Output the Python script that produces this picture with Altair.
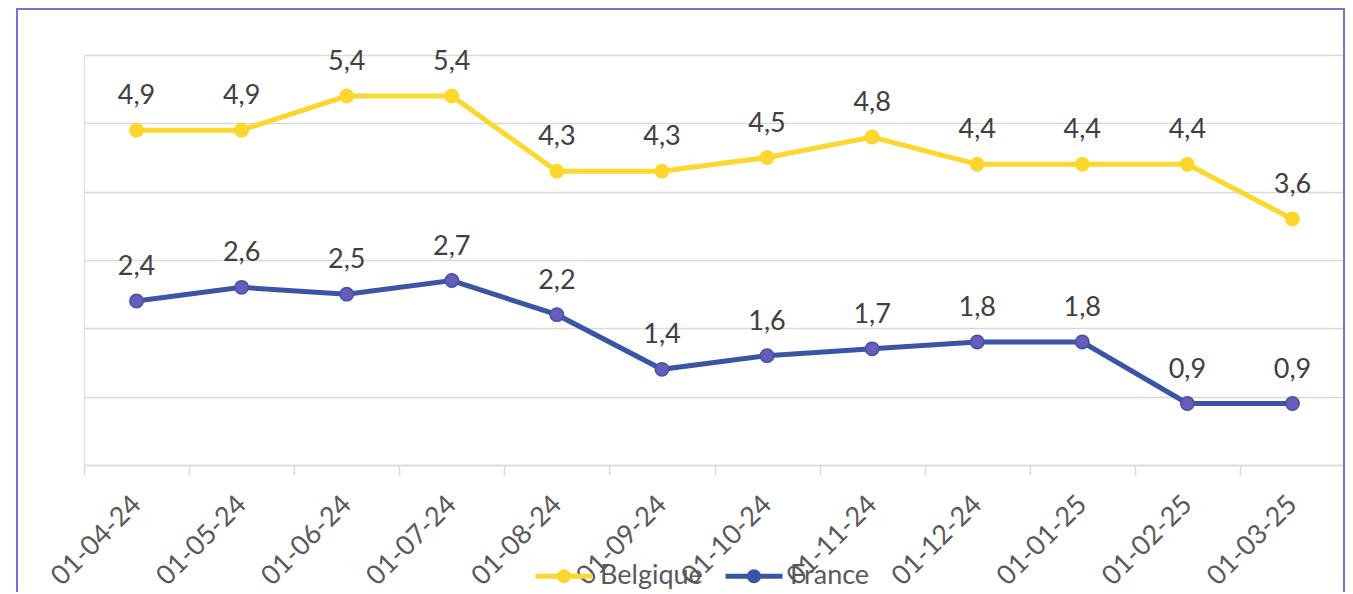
import altair as alt
import pandas as pd

dates = ["01-04-24", "01-05-24", "01-06-24", "01-07-24", "01-08-24", "01-09-24",
         "01-10-24", "01-11-24", "01-12-24", "01-01-25", "01-02-25", "01-03-25"]
belgique = [4.9, 4.9, 5.4, 5.4, 4.3, 4.3, 4.5, 4.8, 4.4, 4.4, 4.4, 3.6]
france = [2.4, 2.6, 2.5, 2.7, 2.2, 1.4, 1.6, 1.7, 1.8, 1.8, 0.9, 0.9]
series = ["Belgique", "France"]
line_colors = ["#FDD62E", "#3A55A6"]
fill_colors = ["#FDD62E", "#6A5BBA"]

rows = []
for i, d in enumerate(dates):
    rows.append({"date": d, "serie": "Belgique", "value": belgique[i]})
    rows.append({"date": d, "serie": "France", "value": france[i]})
df = pd.DataFrame(rows)

FONT = "Lato"
W = 1261
H = 410

x_enc = alt.X("date:N", sort=dates, bandPosition=0.5,
              scale=alt.Scale(type="band", domain=dates, paddingInner=0, paddingOuter=0),
              axis=alt.Axis(title=None, labelAngle=-45, labelAlign="right", labelBaseline="middle",
                            labelPadding=25, labelFont=FONT, labelFontSize=27, labelColor="#595959",
                            tickBand="extent", tickSize=10, tickColor="#D9D9D9", tickWidth=1.5,
                            domainColor="#D9D9D9", domainWidth=1.5, grid=False))
y_enc = alt.Y("value:Q", scale=alt.Scale(domain=[0, 6], nice=False, zero=True),
              axis=alt.Axis(title=None, labels=False, ticks=False, domain=False, grid=True,
                            values=[0, 1, 2, 3, 4, 5, 6], gridColor="#D9D9D9", gridWidth=1.5))

r = 0.16
sym_path = f"M-1,0L1,0M{r},0A{r},{r},0,1,1,-{r},0A{r},{r},0,1,1,{r},0Z"
fill_expr = f"datum.value === '{series[1]}' ? '{fill_colors[1]}' : '{fill_colors[0]}'"

base = alt.Chart(df)

lines = base.mark_line(strokeWidth=5).encode(
    x=x_enc, y=y_enc,
    color=alt.Color("serie:N", scale=alt.Scale(domain=series, range=line_colors),
                    legend=alt.Legend(title=None, orient="none", direction="horizontal",
                                      legendX=449, legendY=490, symbolType=sym_path,
                                      symbolSize=3249, symbolStrokeWidth=5,
                                      labelFont=FONT, labelFontSize=27, labelColor="#595959",
                                      labelOffset=5, columnPadding=12, padding=0,
                                      symbolFillColor={"expr": fill_expr})),
)

points = base.mark_point(filled=True, size=180, strokeWidth=1.5, opacity=1).encode(
    x=x_enc, y=y_enc,
    fill=alt.Fill("serie:N", scale=alt.Scale(domain=series, range=fill_colors), legend=None),
    stroke=alt.Stroke("serie:N", scale=alt.Scale(domain=series, range=line_colors), legend=None),
)

labels = base.transform_calculate(
    lab="replace(format(datum.value, '.1f'), '.', ',')"
).mark_text(font=FONT, fontSize=27, color="#404040", baseline="alphabetic", dy=-26).encode(
    x=x_enc, y=y_enc, text="lab:N"
)

border = alt.Chart(pd.DataFrame({"a": [0]})).mark_rect(
    fill="transparent", stroke="#7B6FCF", strokeWidth=2
).encode(x=alt.value(-67), x2=alt.value(W - 1), y=alt.value(-46), y2=alt.value(560))

chart = alt.layer(border, lines, points, labels).properties(
    width=W, height=H,
    padding={"left": 76, "top": 47, "right": 0, "bottom": 127},
    autosize=alt.AutoSizeParams(type="none"),
).configure_view(stroke=None).configure(background="white")

chart.save("out.html", embed_options={"renderer": "svg", "actions": False})
